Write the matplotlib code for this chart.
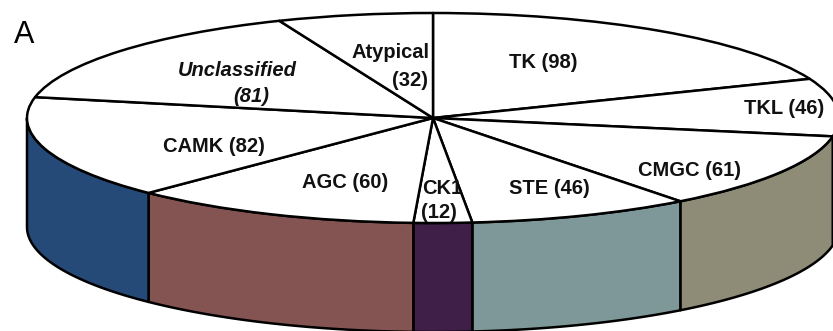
import numpy as np
import matplotlib
matplotlib.use("Agg")
import matplotlib.pyplot as plt
from matplotlib.patches import Wedge, Polygon
from matplotlib.transforms import Affine2D

# Kinase groups, clockwise from 12 o'clock
families = ["TK", "TKL", "CMGC", "STE", "CK1", "AGC", "CAMK", "Unclassified", "Atypical"]
counts = [98, 46, 61, 46, 12, 60, 82, 81, 32]
side_colors = ["#9a9a9a", "#6f7a5e", "#8e8c76", "#7e9798", "#3f1f48",
               "#845452", "#264a78", "#9a9a9a", "#9a9a9a"]

# Label placement (figure pixels) for each line of every label
label_pos = {
    "TK": [(543, 63)],
    "TKL": [(784, 108)],
    "CMGC": [(690, 170)],
    "STE": [(549, 188)],
    "CK1": [(442, 188), (439, 213)],
    "AGC": [(345, 183)],
    "CAMK": [(214, 147)],
    "Unclassified": [(237, 70), (251, 97)],
    "Atypical": [(391, 53), (410, 80)],
}

W, H = 833, 331
fig = plt.figure(figsize=(W / 100, H / 100), dpi=100)
ax = fig.add_axes([0, 0, 1, 1])
ax.set_xlim(0, W)
ax.set_ylim(H, 0)
ax.axis("off")

# Disc geometry: tilted circle drawn as an ellipse with a side wall
cx, cy, rx, ry, depth = 433, 118, 406, 105, 109
disc = Affine2D().scale(rx, -ry).translate(cx, cy) + ax.transData
lw = 1.8

total = sum(counts)
spans = np.array(counts) / total * 360.0
theta2 = 90 - np.concatenate([[0], np.cumsum(spans)[:-1]])
theta1 = theta2 - spans

# Side wall of the front half
for t1, t2, col in zip(theta1, theta2, side_colors):
    lo, hi = max(t1, -180.0), min(t2, 0.0)
    if lo >= hi:
        continue
    t = np.radians(np.linspace(lo, hi, 200))
    top = np.column_stack([np.cos(t), np.sin(t)])
    bot = np.column_stack([np.cos(t), np.sin(t) - depth / ry])[::-1]
    ax.add_patch(Polygon(np.vstack([top, bot]), closed=True, facecolor=col,
                         edgecolor="black", linewidth=lw, transform=disc,
                         joinstyle="round"))

# Top face
for t1, t2 in zip(theta1, theta2):
    ax.add_patch(Wedge((0, 0), 1, t1, t2, facecolor="white", edgecolor="black",
                       linewidth=lw, transform=disc, joinstyle="round"))

# Labels
fs = 14.5
for name, n in zip(families, counts):
    pos = label_pos[name]
    style = "italic" if name == "Unclassified" else "normal"
    if len(pos) == 1:
        lines = [f"{name} ({n})"]
    else:
        lines = [name, f"({n})"]
    for (x, y), s in zip(pos, lines):
        ax.text(x, y, s, ha="center", va="center", fontsize=fs,
                fontweight="bold", fontstyle=style, family="Liberation Sans",
                color="#111111")

ax.text(24, 35, "A", ha="center", va="center", fontsize=22,
        family="Liberation Sans", color="black")

fig.savefig("out.png", dpi=100, facecolor="white")
